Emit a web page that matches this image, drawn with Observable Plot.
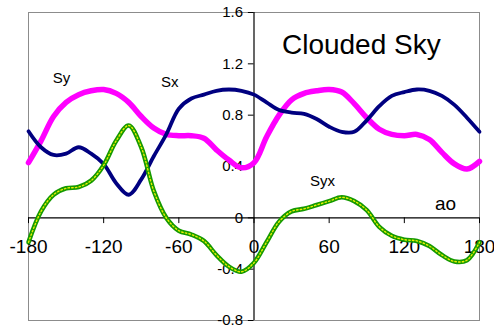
<!DOCTYPE html>
<html>
<head>
<meta charset="utf-8">
<script src="https://cdn.jsdelivr.net/npm/d3@7"></script>
<script src="https://cdn.jsdelivr.net/npm/@observablehq/plot@0.6"></script>
<style>
  html, body { margin: 0; padding: 0; background: #fff; }
  #chart svg { display: block; }
</style>
</head>
<body>
<div id="chart"></div>
<script>
// Angle ao (degrees)
const angles = [-180,-170,-160,-150,-140,-130,-120,-110,-100,-90,-80,-70,-60,-50,-40,-30,-20,-10,0,
                10,20,30,40,50,60,70,80,90,100,110,120,130,140,150,160,170,180];
const sx  = [0.675,0.55,0.49,0.50,0.55,0.50,0.42,0.27,0.18,0.30,0.48,0.65,0.85,0.93,0.96,0.99,1.00,0.99,0.96,
             0.90,0.84,0.82,0.81,0.77,0.71,0.67,0.67,0.76,0.87,0.95,0.98,1.00,0.99,0.95,0.88,0.78,0.67];
const sy  = [0.43,0.60,0.79,0.90,0.96,0.99,1.00,0.97,0.90,0.79,0.70,0.65,0.64,0.64,0.62,0.53,0.45,0.39,0.43,
             0.63,0.80,0.92,0.97,0.99,1.00,0.98,0.89,0.78,0.69,0.65,0.64,0.65,0.61,0.51,0.42,0.38,0.44];
const syx = [-0.19,0.05,0.18,0.23,0.24,0.29,0.41,0.60,0.72,0.55,0.21,0.00,-0.10,-0.13,-0.18,-0.29,-0.38,-0.42,-0.35,
             -0.19,-0.03,0.05,0.07,0.10,0.13,0.16,0.13,0.06,-0.07,-0.14,-0.17,-0.18,-0.22,-0.29,-0.34,-0.33,-0.19];

const xTicks = [-180,-120,-60,0,60,120,180];
const yTicks = [-0.8,-0.4,0,0.4,0.8,1.2,1.6];
const yTickLabels = ["-0.8","-0.4","0","0.4","0.8","1.2","1.6"];

const annotations = [
  {text: "Clouded Sky", x: 22.3, y: 1.35, size: 28, anchor: "start"},
  {text: "Sy",  x: -153.7, y: 1.085, size: 15, anchor: "middle"},
  {text: "Sx",  x: -67.3,  y: 1.054, size: 15, anchor: "middle"},
  {text: "Syx", x: 54.6,   y: 0.283, size: 15, anchor: "middle"},
  {text: "ao",  x: 152.9,  y: 0.111, size: 19, anchor: "middle"}
];

const rows = (vals) => angles.map((a, i) => ({a, v: vals[i]}));
const SX = rows(sx), SY = rows(sy), SYX = rows(syx);
const yt = yTicks.map((v, i) => ({v, label: yTickLabels[i]}));

const curve = "catmull-rom";

const chart = Plot.plot({
  width: 494,
  height: 329,
  marginLeft: 28,
  marginRight: 15,
  marginTop: 12,
  marginBottom: 9,
  x: {domain: [-180, 180], axis: null},
  y: {domain: [-0.8, 1.6], axis: null},
  style: {fontFamily: "'Liberation Sans', Arial, sans-serif", background: "#fff", color: "#000"},
  marks: [
    Plot.frame({stroke: "#8c8c8c", strokeWidth: 1}),
    // Y axis at x = 0
    Plot.ruleX([0], {stroke: "#000", strokeWidth: 1.2}),
    Plot.ruleY(yTicks, {y: d => d, x1: -4.5, x2: 0, stroke: "#000", strokeWidth: 1}),
    Plot.text(yt, {x: 0, y: "v", text: "label", textAnchor: "end", dx: -11, fontSize: 15, fill: "#000"}),
    // X axis at y = 0
    Plot.ruleY([0], {stroke: "#000", strokeWidth: 1.2}),
    Plot.ruleX(xTicks, {x: d => d, y1: 0, y2: -0.045, stroke: "#000", strokeWidth: 1}),
    Plot.text(xTicks, {x: d => d, y: 0, text: d => String(d), dy: 29, fontSize: 19, fill: "#000"}),
    // Series
    Plot.line(SY, {x: "a", y: "v", curve, stroke: "#ff00ff", strokeWidth: 5.5}),
    Plot.line(SX, {x: "a", y: "v", curve, stroke: "#000080", strokeWidth: 3.8}),
    Plot.line(SYX, {x: "a", y: "v", curve, stroke: "#159a00", strokeWidth: 4.6}),
    Plot.line(SYX, {x: "a", y: "v", curve, stroke: "#e8f000", strokeWidth: 1.4, strokeDasharray: "1.5,2.2"}),
    // Annotations
    ...annotations.map(d => Plot.text([d], {x: "x", y: "y", text: "text", fontSize: d.size, textAnchor: d.anchor, fill: "#000"}))
  ]
});
document.getElementById("chart").appendChild(chart);
</script>
</body>
</html>
